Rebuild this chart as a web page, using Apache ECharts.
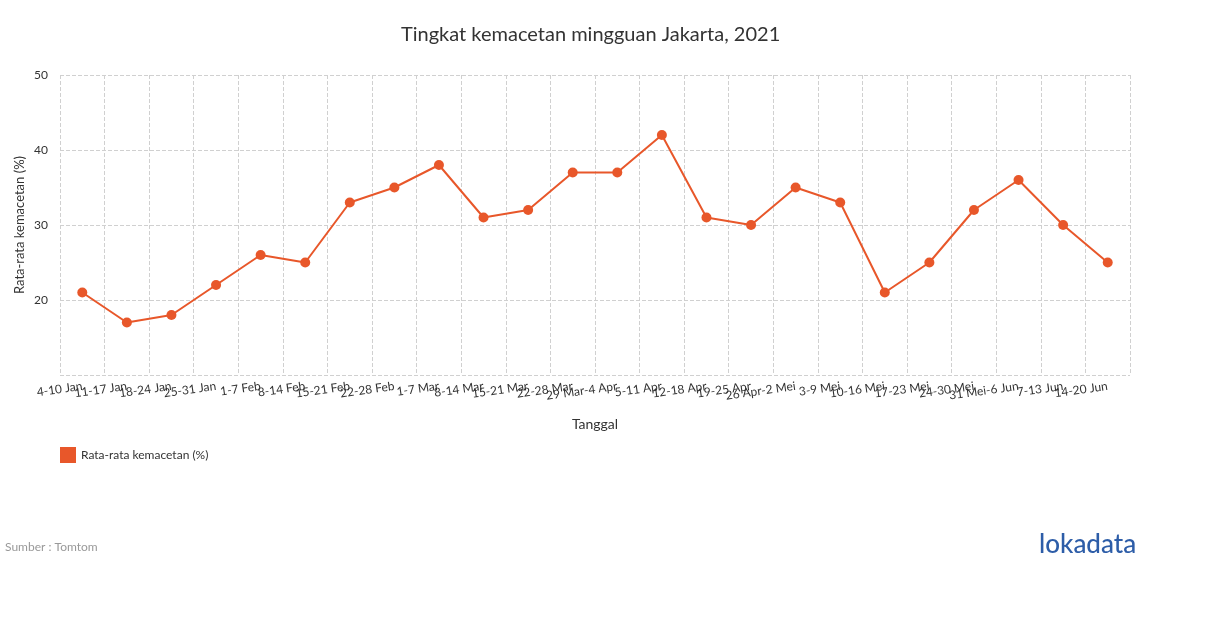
<!DOCTYPE html>
<html>
<head>
<meta charset="utf-8">
<script src="https://cdn.jsdelivr.net/npm/echarts@6/dist/echarts.min.js"></script>
<style>
html,body{margin:0;padding:0;background:#fff;}
#chart{width:1210px;height:628px;}
</style>
</head>
<body>
<div id="chart"></div>
<script>
const categories = ["4-10 Jan","11-17 Jan","18-24 Jan","25-31 Jan","1-7 Feb","8-14 Feb","15-21 Feb","22-28 Feb","1-7 Mar","8-14 Mar","15-21 Mar","22-28 Mar","29 Mar-4 Apr","5-11 Apr","12-18 Apr","19-25 Apr","26 Apr-2 Mei","3-9 Mei","10-16 Mei","17-23 Mei","24-30 Mei","31 Mei-6 Jun","7-13 Jun","14-20 Jun"];
const congestion = [21,17,18,22,26,25,33,35,38,31,32,37,37,42,31,30,35,33,21,25,32,36,30,25];
const seriesName = "Rata-rata kemacetan (%)";

const FONT = "Lato, 'Noto Sans', sans-serif";
const chart = echarts.init(document.getElementById('chart'), null, {renderer:'canvas'});
chart.setOption({
  animation:false,
  backgroundColor:'#fff',
  textStyle:{fontFamily:FONT},
  title:{
    text:'Tingkat kemacetan mingguan Jakarta, 2021',
    left:396, top:20,
    textStyle:{fontFamily:FONT,fontSize:20,fontWeight:'normal',color:'#333'}
  },
  legend:{
    left:55, top:442,
    itemWidth:16, itemHeight:16, itemGap:10,
    icon:'rect',
    textStyle:{fontFamily:FONT,fontSize:12,color:'#333'},
    data:[seriesName]
  },
  grid:{left:60,right:80,top:75,bottom:253,containLabel:false,outerBoundsMode:'none'},
  xAxis:{
    type:'category',
    data:categories,
    boundaryGap:true,
    name:'Tanggal',
    nameLocation:'middle',
    nameGap:42,
    nameTextStyle:{fontFamily:FONT,fontSize:14,color:'#333'},
    axisLine:{show:false},
    axisTick:{show:false},
    axisLabel:{interval:0,rotate:8,fontFamily:FONT,fontSize:12,color:'#333',margin:11},
    splitLine:{show:true,lineStyle:{type:'dashed',color:'#d0d0d0',width:1}}
  },
  yAxis:{
    type:'value',
    min:10,max:50,interval:10,
    name:'Rata-rata kemacetan (%)',
    nameLocation:'middle',
    nameGap:34,
    nameMoveOverlap:false,
    nameTextStyle:{fontFamily:FONT,fontSize:13,color:'#333'},
    axisLine:{show:false},
    axisTick:{show:false},
    axisLabel:{showMinLabel:false,fontFamily:FONT,fontSize:12,color:'#333',margin:12},
    splitLine:{show:true,lineStyle:{type:'dashed',color:'#d0d0d0',width:1}}
  },
  series:[{
    name:seriesName,
    type:'line',
    data:congestion,
    color:'#E8572A',
    symbol:'circle',
    symbolSize:10,
    lineStyle:{width:2,color:'#E8572A'},
    itemStyle:{color:'#E8572A'}
  }],
  graphic:[
    {type:'text',left:5,top:541,style:{text:'Sumber : Tomtom',fill:'#999',font:'12px '+FONT}},
    {type:'text',left:1039,top:532,style:{text:'lokadata',fill:'#2D5DA8',font:'500 26px '+FONT}}
  ]
});
</script>
</body>
</html>
